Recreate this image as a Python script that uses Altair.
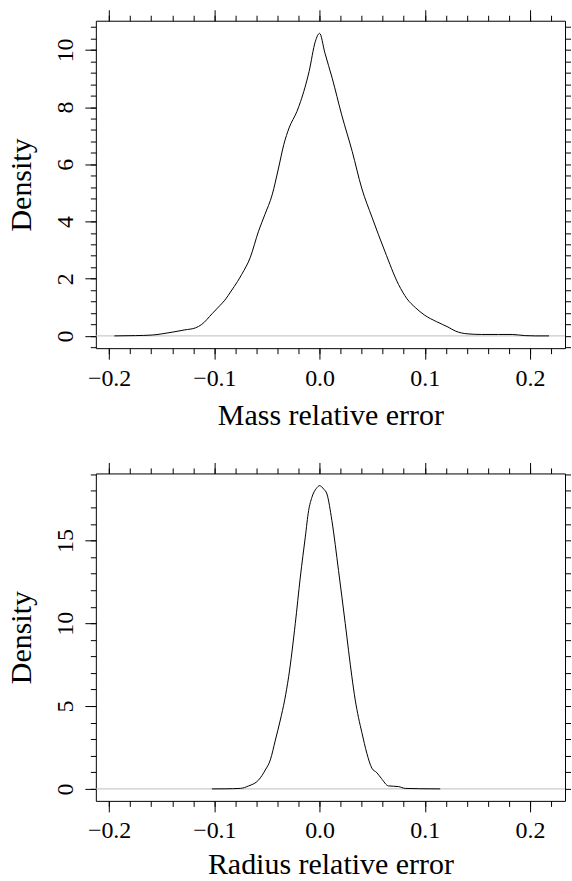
import altair as alt
import pandas as pd

# ---- data ----
mass_x = [-0.195, -0.175, -0.159, -0.150, -0.140, -0.128, -0.118, -0.112, -0.102, -0.095,
          -0.090, -0.084, -0.078, -0.074, -0.066, -0.058, -0.052, -0.045, -0.039, -0.034,
          -0.029, -0.0215, -0.018, -0.010, -0.004, 0.0, 0.005, 0.012, 0.021, 0.031,
          0.040, 0.050, 0.062, 0.075, 0.083, 0.091, 0.100, 0.111, 0.122, 0.129,
          0.141, 0.154, 0.170, 0.183, 0.195, 0.205, 0.218]
mass_d = [0.0, 0.01, 0.03, 0.07, 0.13, 0.21, 0.28, 0.40, 0.78, 1.05,
          1.25, 1.57, 1.90, 2.15, 2.73, 3.66, 4.24, 4.94, 5.87, 6.69,
          7.27, 7.85, 8.20, 9.24, 10.3, 10.58, 9.9, 9.01, 7.73, 6.45,
          5.17, 4.13, 2.96, 1.80, 1.30, 0.99, 0.72, 0.50, 0.31, 0.17,
          0.07, 0.05, 0.05, 0.05, 0.01, 0.0, 0.0]

radius_x = [-0.1023, -0.090, -0.0753, -0.0674, -0.0579, -0.0516, -0.0468, -0.042, -0.0373, -0.0332,
            -0.0294, -0.0231, -0.0183, -0.0136, -0.0104, -0.0073, -0.003, 0.0, 0.004, 0.007,
            0.0117, 0.018, 0.0244, 0.0307, 0.0339, 0.037, 0.0402, 0.0449, 0.0497, 0.0544,
            0.0586, 0.0655, 0.075, 0.0814, 0.095, 0.1146]
radius_d = [0.0, 0.005, 0.03, 0.18, 0.54, 1.14, 1.75, 2.95, 4.16, 5.36,
            6.77, 9.98, 12.79, 15.2, 16.81, 17.61, 18.15, 18.31, 18.1, 17.81,
            16.2, 13.19, 9.98, 6.77, 5.36, 4.3, 3.4, 2.15, 1.25, 0.98,
            0.64, 0.18, 0.14, 0.03, 0.01, 0.0]

x_major = [-0.2, -0.1, 0.0, 0.1, 0.2]
x_minor = [-0.2, -0.18, -0.16, -0.14, -0.12, -0.1, -0.08, -0.06, -0.04, -0.02, 0.0,
           0.02, 0.04, 0.06, 0.08, 0.1, 0.12, 0.14, 0.16, 0.18, 0.2, 0.22]

mass_y_major = [0, 2, 4, 6, 8, 10]
mass_y_minor = [-0.4, 0.0, 0.4, 0.8, 1.2, 1.6, 2.0, 2.4, 2.8, 3.2, 3.6, 4.0, 4.4, 4.8, 5.2,
                5.6, 6.0, 6.4, 6.8, 7.2, 7.6, 8.0, 8.4, 8.8, 9.2, 9.6, 10.0, 10.4, 10.8]
radius_y_major = [0, 5, 10, 15]
radius_y_minor = [0, 1, 2, 3, 4, 5, 6, 7, 8, 9, 10, 11, 12, 13, 14, 15, 16, 17, 18, 19]

X_DOMAIN = [-0.2126, 0.2332]
MASS_Y_DOMAIN = [-0.429, 11.02]
RADIUS_Y_DOMAIN = [-0.723, 19.05]

W, H = 470, 328
FONT = "Liberation Serif"


def panel(xs, ds, ydom, ymaj, ymin, xtitle, title_y):
    df = pd.DataFrame({"x": xs, "d": ds})
    zero_df = pd.DataFrame({"z": [0]})
    xs_ = alt.Scale(domain=X_DOMAIN, nice=False, zero=False)
    ys_ = alt.Scale(domain=ydom, nice=False, zero=False)

    common = dict(domain=False, grid=False, tickColor="black", tickWidth=1)

    zero = alt.Chart(zero_df).mark_rule(color="#bdbdbd", strokeWidth=1).encode(
        y=alt.Y("z:Q", scale=ys_, axis=None)
    )

    line = alt.Chart(df).mark_line(color="black", strokeWidth=1, interpolate="monotone").encode(
        x=alt.X("x:Q", scale=xs_, axis=alt.Axis(
            orient="bottom", values=x_major, format=".1f", tickSize=11,
            labelFont=FONT, labelFontSize=24, labelColor="black",
            labelBaseline="alphabetic", labelPadding=26, labelFlush=False,
            labelOverlap=False,
            title=xtitle, titleFont=FONT, titleFontSize=30, titleFontWeight="normal",
            titleColor="black", titleBaseline="alphabetic", titleAlign="center",
            titleX=W / 2, titleY=title_y, **common)),
        y=alt.Y("d:Q", scale=ys_, axis=alt.Axis(
            orient="left", values=ymaj, format="d", tickSize=11,
            labelFont=FONT, labelFontSize=24, labelColor="black",
            labelAngle=270, labelAlign="center", labelBaseline="alphabetic",
            labelPadding=12.5, labelFlush=False, labelOverlap=False,
            title="Density", titleFont=FONT, titleFontSize=30, titleFontWeight="normal",
            titleColor="black", titleAngle=270, titleBaseline="alphabetic",
            titleAlign="center", titleX=-65, titleY=H / 2, **common)),
    )

    def ghost(xaxis=None, yaxis=None):
        return alt.Chart(df).mark_point(opacity=0).encode(
            x=alt.X("x:Q", scale=xs_, axis=xaxis),
            y=alt.Y("d:Q", scale=ys_, axis=yaxis),
        )

    nolab = dict(labels=False, title=None, **common)
    layers = [
        zero,
        ghost(xaxis=alt.Axis(orient="bottom", values=x_minor, tickSize=5.5, **nolab)),
        ghost(xaxis=alt.Axis(orient="top", values=x_major, tickSize=11, **nolab)),
        ghost(xaxis=alt.Axis(orient="top", values=x_minor, tickSize=5.5, **nolab)),
        ghost(yaxis=alt.Axis(orient="left", values=ymin, tickSize=5.5, **nolab)),
        ghost(yaxis=alt.Axis(orient="right", values=ymin, tickSize=5.5, **nolab)),
        line,
    ]
    return alt.layer(*layers).resolve_axis(x="independent", y="independent").properties(
        width=W, height=H
    )


top = panel(mass_x, mass_d, MASS_Y_DOMAIN, mass_y_major, mass_y_minor,
            "Mass relative error", 76.5)
bottom = panel(radius_x, radius_d, RADIUS_Y_DOMAIN, radius_y_major, radius_y_minor,
               "Radius relative error", 72.5)

chart = alt.vconcat(top, bottom, spacing=125.5, bounds="flush").properties(
    padding={"left": 6, "top": 8, "right": 0, "bottom": 0},
    background="white",
).configure_view(stroke="black", strokeWidth=1)

chart.save("out.html", embed_options={"renderer": "svg", "actions": False})
